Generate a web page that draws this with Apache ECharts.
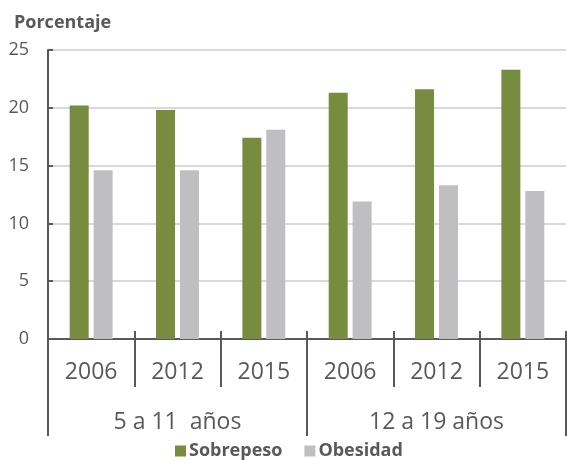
<!DOCTYPE html>
<html><head><meta charset="utf-8">
<script src="https://cdn.jsdelivr.net/npm/echarts@6/dist/echarts.min.js"></script>
<style>html,body{margin:0;padding:0;background:#fff}#c{width:567px;height:460px}</style>
</head><body><div id="c"></div>
<script>
const years = ['2006','2012','2015','2006','2012','2015'];
const groups = ['5 a 11  años','12 a 19 años'];
const sobrepeso = [20.2, 19.8, 17.4, 21.3, 21.6, 23.3];
const obesidad = [14.6, 14.6, 18.1, 11.9, 13.3, 12.8];
const yTicks = [0, 5, 10, 15, 20, 25];

const FONT = 'Open Sans';
const TXT = '#595959';
const chart = echarts.init(document.getElementById('c'));
chart.setOption({
  animation: false,
  textStyle: {fontFamily: FONT},
  grid: {left: 48, right: 1, top: 50, bottom: 121, containLabel: false},
  title: {text: 'Porcentaje', left: 9, top: 9,
    textStyle: {fontFamily: FONT, fontSize: 18, fontWeight: 'bold', color: TXT}},
  legend: {top: 437, left: 170, itemWidth: 11, itemHeight: 11, itemGap: 22,
    icon: 'rect',
    textStyle: {fontFamily: FONT, fontSize: 18, fontWeight: 'bold', color: TXT, padding: [0, 0, 0, -2]},
    data: ['Sobrepeso', 'Obesidad']},
  xAxis: [
    {type: 'category', data: years, position: 'bottom',
      axisLine: {lineStyle: {color: TXT, width: 2}},
      axisTick: {show: true, interval: 0, length: 48, lineStyle: {color: TXT, width: 2}},
      axisLabel: {interval: 0, margin: 22, fontSize: 23, color: TXT, fontFamily: FONT}},
    {type: 'category', data: years, position: 'bottom', gridIndex: 0,
      axisLine: {show: false},
      axisTick: {show: true, inside: true, interval: 0, length: 8, lineStyle: {color: TXT, width: 2}},
      axisLabel: {show: false}},
    {type: 'category', data: groups, position: 'bottom', gridIndex: 0,
      axisLine: {show: false},
      axisTick: {show: true, interval: 0, length: 97, lineStyle: {color: TXT, width: 2}},
      axisLabel: {interval: 0, margin: 72, fontSize: 23, color: TXT, fontFamily: FONT}}
  ],
  yAxis: {type: 'value', min: yTicks[0], max: yTicks[yTicks.length - 1], interval: 5,
    axisLine: {show: true, lineStyle: {color: TXT, width: 2}},
    axisTick: {show: true, inside: true, length: 5, lineStyle: {color: TXT, width: 2}},
    splitLine: {lineStyle: {color: '#d9d9d9', width: 2}},
    axisLabel: {margin: 19, fontSize: 18, color: TXT, fontFamily: FONT}},
  series: [
    {name: 'Sobrepeso', type: 'bar', data: sobrepeso, barWidth: 19, barGap: '26%',
      itemStyle: {color: '#778c3f'}},
    {name: 'Obesidad', type: 'bar', data: obesidad, barWidth: 19,
      itemStyle: {color: '#bfbfc1'}}
  ]
});
</script></body></html>
